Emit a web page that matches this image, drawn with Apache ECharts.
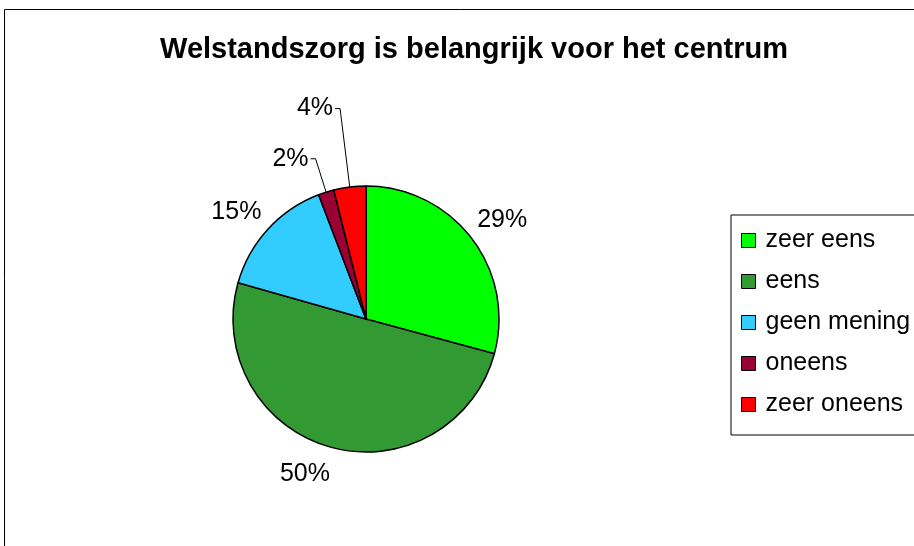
<!DOCTYPE html>
<html>
<head>
<meta charset="utf-8">
<script src="https://cdn.jsdelivr.net/npm/echarts@6/dist/echarts.min.js"></script>
<style>
html,body{margin:0;padding:0;background:#fff;}
#chart{width:914px;height:546px;}
</style>
</head>
<body>
<div id="chart"></div>
<script>
const titleText = 'Welstandszorg is belangrijk voor het centrum';
const categories = ['zeer eens', 'eens', 'geen mening', 'oneens', 'zeer oneens'];
const values = [29.2, 50.2, 14.8, 1.9, 3.9];
const colors = ['#00ff00', '#339933', '#33ccff', '#990033', '#ff0000'];

const FONT = '"Liberation Sans", Arial, sans-serif';
// which slices carry a leader line (small ones), and their line lengths
const leader = {3: {length: 35, length2: 5}, 4: {length: 79, length2: 5}};
// small nudges for the outer labels of the big slices
const labelNudge = {0: [2, 4], 1: [-16, -8], 2: [-5, 7]};

const pctFmt = p => Math.round(p.percent) + '%';

const mainData = categories.map((name, i) => {
  const item = {name: name, value: values[i], itemStyle: {color: colors[i]}};
  if (leader[i]) {
    item.label = {show: true};
    item.labelLine = {show: true, length: leader[i].length, length2: leader[i].length2};
  } else {
    item.label = {show: false};
    item.labelLine = {show: false};
  }
  return item;
});

const ringData = categories.map((name, i) => ({
  name: name, value: values[i],
  label: {show: !leader[i], offset: labelNudge[i] || [0, 0]}
}));

const chart = echarts.init(document.getElementById('chart'), null, {renderer: 'canvas'});
chart.setOption({
  animation: false,
  backgroundColor: '#ffffff',
  title: {
    text: titleText,
    left: 469, top: 30, textAlign: 'center',
    textStyle: {fontFamily: FONT, fontSize: 29, fontWeight: 'bold', color: '#000'}
  },
  legend: {
    orient: 'vertical',
    left: 731, top: 215,
    padding: [13, 12, 18, 10],
    borderColor: '#000', borderWidth: 1,
    itemWidth: 14, itemHeight: 14, itemGap: 16,
    icon: 'rect',
    data: categories,
    itemStyle: {borderColor: '#000', borderWidth: 1},
    textStyle: {fontFamily: FONT, fontSize: 25, color: '#000', lineHeight: 20, padding: [0, 0, 0, 5]},
    selectedMode: false
  },
  graphic: [{
    type: 'rect', silent: true,
    shape: {x: 4.5, y: 9.5, width: 1200, height: 1200},
    style: {fill: 'none', stroke: '#000', lineWidth: 1}
  }],
  series: [{
    type: 'pie',
    center: [366, 319],
    radius: [0, 133],
    startAngle: 90,
    clockwise: true,
    avoidLabelOverlap: false,
    emphasis: {disabled: true},
    itemStyle: {borderColor: '#000', borderWidth: 1.5},
    label: {position: 'outside', formatter: pctFmt, fontFamily: FONT, fontSize: 25, color: '#000', distanceToLabelLine: 2},
    labelLine: {lineStyle: {color: '#000', width: 1}, smooth: false},
    data: mainData
  }, {
    type: 'pie',
    center: [366, 319],
    radius: [160, 172],
    startAngle: 90,
    clockwise: true,
    silent: true,
    avoidLabelOverlap: false,
    emphasis: {disabled: true},
    tooltip: {show: false},
    itemStyle: {color: 'rgba(0,0,0,0)', borderWidth: 0},
    label: {position: 'inside', formatter: pctFmt, fontFamily: FONT, fontSize: 25, color: '#000'},
    labelLine: {show: false},
    data: ringData
  }]
});
</script>
</body>
</html>
